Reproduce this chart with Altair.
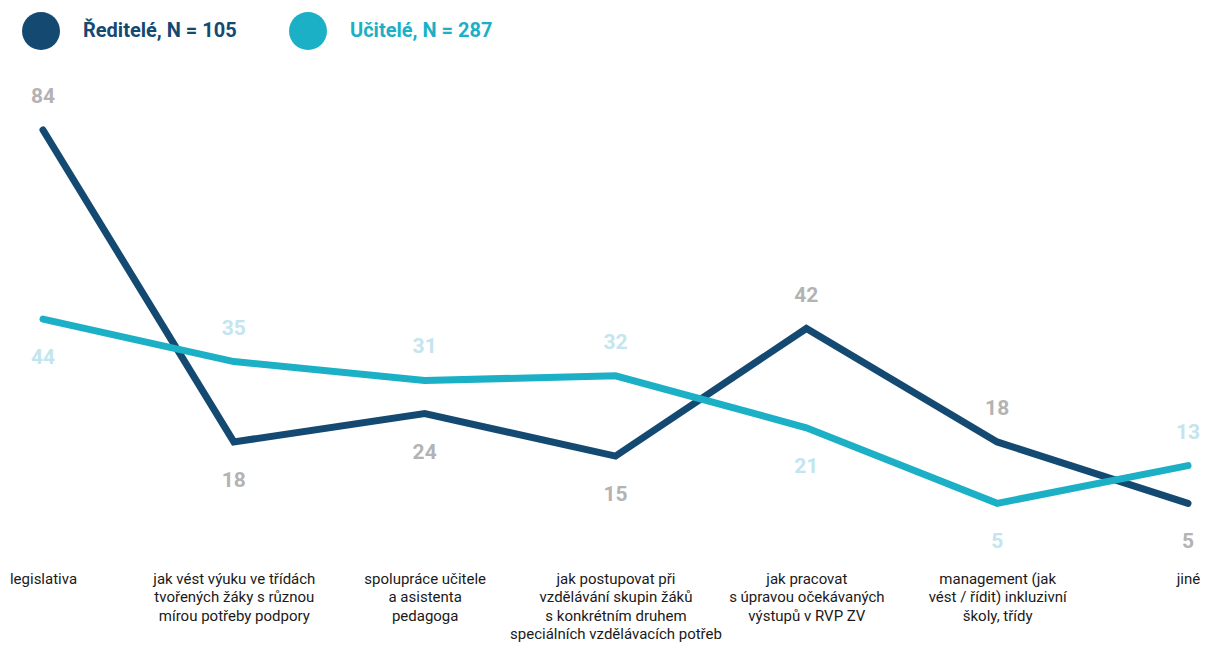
import altair as alt
import pandas as pd

categories = [
    "legislativa",
    "jak vést výuku ve třídách\ntvořených žáky s různou\nmírou potřeby podpory",
    "spolupráce učitele\na asistenta\npedagoga",
    "jak postupovat při\nvzdělávání skupin žáků\ns konkrétním druhem\nspeciálních vzdělávacích potřeb",
    "jak pracovat\ns úpravou očekávaných\nvýstupů v RVP ZV",
    "management (jak\nvést / řídit) inkluzivní\nškoly, třídy",
    "jiné",
]
series_names = ["Ředitelé, N = 105", "Učitelé, N = 287"]
reditele = [84, 18, 24, 15, 42, 18, 5]
ucitele = [44, 35, 31, 32, 21, 5, 13]
colors = ["#144a72", "#1bb0c6"]

rows = []
for i, c in enumerate(categories):
    rows.append({"cat": c, "order": i, "series": series_names[0], "value": reditele[i]})
    rows.append({"cat": c, "order": i, "series": series_names[1], "value": ucitele[i]})
df = pd.DataFrame(rows)

FONT = "Roboto"

x = alt.X(
    "cat:N",
    sort=categories,
    scale=alt.Scale(type="point", padding=0),
    axis=alt.Axis(
        title=None, domain=False, ticks=False, grid=False, labelAngle=0,
        labelExpr="split(datum.label, '\\n')", labelFont=FONT, labelFontSize=15,
        labelColor="#1a1a1a", labelPadding=44, labelLineHeight=18.5,
        labelAlign="center", labelBaseline="top", labelOverlap=False, labelLimit=300,
    ),
)
y = alt.Y("value:Q", scale=alt.Scale(domain=[0, 84], nice=False, zero=True), axis=None)

col_expr = f"datum.value == '{series_names[0]}' ? '{colors[0]}' : '{colors[1]}'"
color = alt.Color(
    "series:N",
    scale=alt.Scale(domain=series_names, range=colors),
    legend=alt.Legend(
        title=None, orient="none", legendX=-21, legendY=-118, direction="horizontal",
        symbolType="circle", symbolSize=1444, symbolStrokeWidth=0,
        symbolFillColor=alt.ExprRef(col_expr), symbolOpacity=1,
        labelColor=alt.ExprRef(col_expr),
        labelFont=FONT, labelFontSize=20, labelFontWeight="bold", labelOffset=23,
        columnPadding=52, labelLimit=400, padding=0,
    ),
)

base = alt.Chart(df).encode(x=x, y=y)

lines = base.mark_line(strokeWidth=7, strokeCap="round").encode(
    color=color, detail="series:N", order="order:Q"
)

lab = base.transform_joinaggregate(mx="max(value)", groupby=["cat"]).transform_calculate(
    top="datum.value == datum.mx"
)
fill = alt.condition(
    alt.datum.series == series_names[0], alt.value("#b3b3b3"), alt.value("#c3e5ed")
)
above = lab.transform_filter("datum.top").mark_text(
    font=FONT, fontSize=21, fontWeight="bold", dy=-33, baseline="middle", align="center"
).encode(text="value:Q", fill=fill)
below = lab.transform_filter("!datum.top").mark_text(
    font=FONT, fontSize=21, fontWeight="bold", dy=39, baseline="middle", align="center"
).encode(text="value:Q", fill=fill)

chart = (
    alt.layer(lines, above, below)
    .properties(
        width=1145, height=397,
        padding={"left": 35, "top": 122, "right": 12, "bottom": 118},
        autosize=alt.AutoSizeParams(type="none"),
    )
    .configure_view(stroke=None)
)

chart.save("out.html", embed_options={"renderer": "svg", "actions": False})
